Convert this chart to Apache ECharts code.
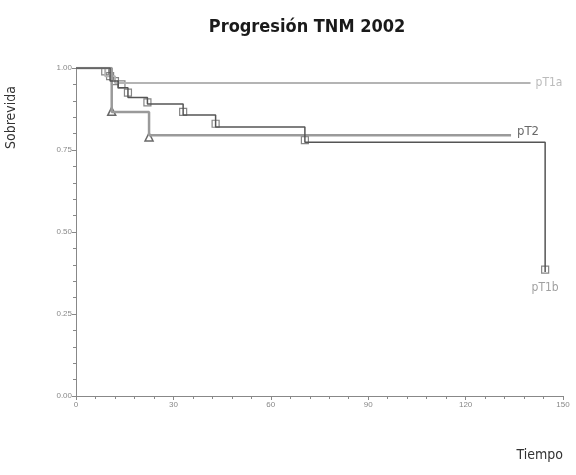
<!DOCTYPE html>
<html><head><meta charset="utf-8">
<script src="https://cdn.jsdelivr.net/npm/echarts@6/dist/echarts.min.js"></script>
<style>html,body{margin:0;padding:0;background:#fff}#c{width:576px;height:475px}</style>
</head><body><div id="c"></div>
<script>
// Kaplan-Meier step data (time in months, survival)
const pT1aTimes = [0, 9, 12, 140];
const pT1aSurv  = [1.0, 0.975, 0.954, 0.954];
const pT2Times  = [0, 11, 22.5, 134];
const pT2Surv   = [1.0, 0.866, 0.795, 0.795];
const pT1bTimes = [0, 10.5, 13, 16, 22, 33, 43, 70.5, 144.5];
const pT1bSurv  = [1.0, 0.96, 0.94, 0.91, 0.89, 0.857, 0.82, 0.774, 0.378];
// censoring marks
const pT1bCensT = [9, 10.5, 12, 14, 16, 22, 33, 43, 70.5, 144.5];
const pT1bCensS = [0.99, 0.975, 0.96, 0.95, 0.925, 0.895, 0.866, 0.83, 0.78, 0.385];
const pT2CensT  = [11, 22.5];
const pT2CensS  = [0.868, 0.79];
const xTicks = [0, 30, 60, 90, 120, 150];
const yTicks = [0, 0.25, 0.5, 0.75, 1.0];
const labels = ['pT1a', 'pT2', 'pT1b'];

const zip = (a, b) => a.map((v, i) => [v, b[i]]);
const narrow = '"Liberation Sans Narrow","DejaVu Sans Condensed",sans-serif';
const labelPoint = (coord, text, pos, color, size, offset) => ({
  type: 'scatter', data: [coord], symbolSize: 0, silent: true,
  label: {show: true, formatter: text, position: pos, distance: 0, offset: offset, color: color, fontSize: size, fontFamily: narrow}
});
const chart = echarts.init(document.getElementById('c'));
chart.setOption({
  animation: false,
  title: {
    text: 'Progresión TNM 2002', left: 302, top: 13, textAlign: 'center',
    textStyle: {fontFamily: narrow, fontWeight: 'bold', fontSize: 18, color: '#1a1a1a'}
  },
  grid: {left: 76, right: 13, top: 68, bottom: 79},
  xAxis: {
    type: 'value', min: xTicks[0], max: xTicks[xTicks.length - 1], interval: 30,
    name: 'Tiempo', nameLocation: 'end', nameGap: 0,
    nameTextStyle: {fontFamily: narrow, fontSize: 14, color: '#333', align: 'right', verticalAlign: 'top', padding: [52, 0, 0, 0]},
    axisLine: {lineStyle: {color: '#888', width: 1}},
    axisTick: {length: 4, lineStyle: {color: '#888'}},
    minorTick: {show: true, splitNumber: 5, length: 3, lineStyle: {color: '#888'}},
    splitLine: {show: false},
    axisLabel: {fontSize: 8, color: '#888', margin: 5}
  },
  yAxis: {
    type: 'value', min: 0, max: 1, interval: 0.25,
    name: 'Sobrevida', nameLocation: 'end', nameRotate: 90, nameGap: 0,
    nameTextStyle: {fontFamily: narrow, fontSize: 14, color: '#333', align: 'right', verticalAlign: 'bottom', padding: [0, 18, 58, 0]},
    axisLine: {show: true, lineStyle: {color: '#888', width: 1}},
    axisTick: {show: true, length: 4, lineStyle: {color: '#888'}},
    minorTick: {show: true, splitNumber: 5, length: 3, lineStyle: {color: '#888'}},
    splitLine: {show: false},
    axisLabel: {fontSize: 8, color: '#888', margin: 4, formatter: v => v.toFixed(2)}
  },
  series: [
    {type: 'line', step: 'end', data: zip(pT1aTimes, pT1aSurv), symbol: 'none',
     lineStyle: {color: '#b4b4b4', width: 2}},
    {type: 'line', step: 'end', data: zip(pT2Times, pT2Surv), symbol: 'none',
     lineStyle: {color: '#9a9a9a', width: 2.5}},
    {type: 'line', step: 'end', data: zip(pT1bTimes, pT1bSurv), symbol: 'none',
     lineStyle: {color: '#555', width: 1.5}},
    {type: 'scatter', data: zip(pT1bCensT, pT1bCensS), symbol: 'rect', symbolSize: 7,
     itemStyle: {color: 'rgba(255,255,255,0)', borderColor: '#666', borderWidth: 1.2}},
    {type: 'scatter', data: zip(pT2CensT, pT2CensS), symbol: 'triangle', symbolSize: 8,
     itemStyle: {color: 'rgba(255,255,255,0)', borderColor: '#444', borderWidth: 1.5}},
    labelPoint([pT1aTimes[3], pT1aSurv[3]], labels[0], 'right', '#aaa', 12, [5, 0]),
    labelPoint([pT2Times[3], pT2Surv[3]], labels[1], 'right', '#444', 13, [6, -4]),
    labelPoint([pT1bTimes[8], pT1bSurv[8]], labels[2], 'bottom', '#888', 12, [0, 10])
  ]
});
</script></body></html>
